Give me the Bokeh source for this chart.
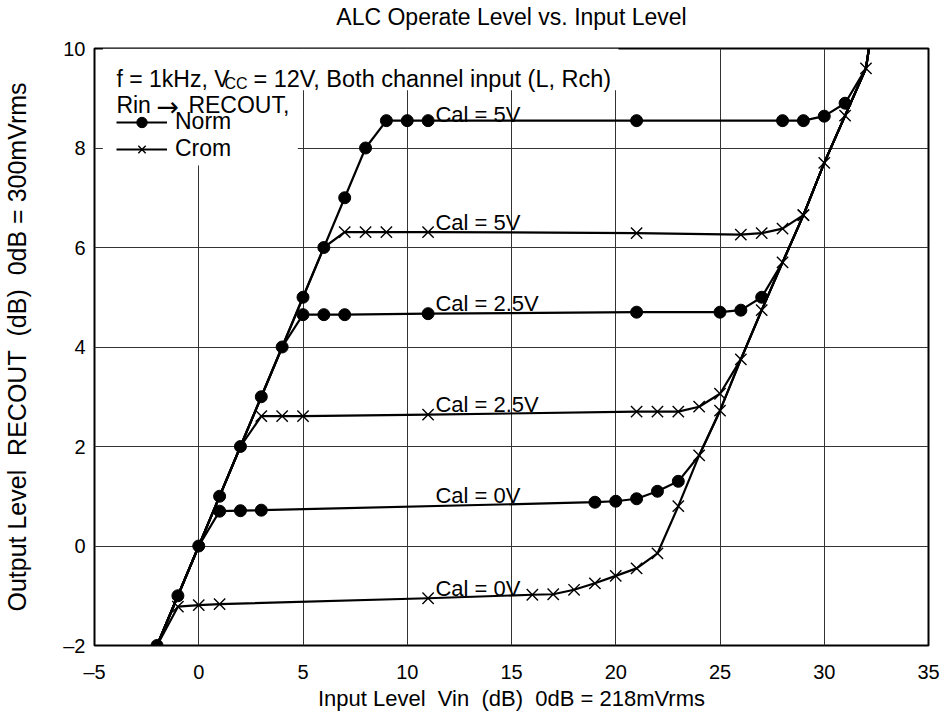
from bokeh.plotting import figure
from bokeh.models import Label, Legend, LegendItem, FixedTicker, Range1d, LinearAxis
from bokeh.core.properties import value
from bokeh.embed import file_html
from bokeh.resources import INLINE

FONT = "Liberation Sans"
NB = "\u00a0"

# ---- axes ----
x_ticks = [-5, 0, 5, 10, 15, 20, 25, 30, 35]
y_ticks = [-2, 0, 2, 4, 6, 8, 10]

# ---- shared rising segment (linear region, Norm points) ----
rise_x = [-2, -1, 0, 1, 2, 3, 4, 5, 6, 7, 8]
rise_y = [-2, -1, 0, 1, 2, 3, 4, 5, 6, 7, 8]

# ---- shared steep segment at high input (Crom points) ----
steep_x = [22, 23, 24, 25, 26, 27, 28, 29, 30, 31, 32, 32.5]
steep_y = [-0.15, 0.8, 1.82, 2.72, 3.75, 4.74, 5.7, 6.65, 7.7, 8.65, 9.6, 11.0]

# ---- ALC-limited plateaus ----
norm5_x = [9, 10, 11, 21, 28, 29, 30, 31]
norm5_y = [8.55, 8.55, 8.55, 8.55, 8.55, 8.55, 8.64, 8.9]
crom5_x = [7, 8, 9, 11, 21, 26, 27, 28, 29]
crom5_y = [6.31, 6.31, 6.31, 6.31, 6.29, 6.26, 6.29, 6.38, 6.65]
norm25_x = [5, 6, 7, 11, 21, 25, 26, 27]
norm25_y = [4.65, 4.65, 4.65, 4.67, 4.70, 4.70, 4.74, 5.0]
crom25_x = [3, 4, 5, 11, 21, 22, 23, 24, 25]
crom25_y = [2.61, 2.61, 2.61, 2.64, 2.70, 2.70, 2.70, 2.8, 3.06]
norm0_x = [1, 2, 3, 19, 20, 21, 22, 23]
norm0_y = [0.7, 0.71, 0.72, 0.88, 0.9, 0.95, 1.1, 1.3]
crom0_x = [-1, 0, 1, 11, 16, 17, 18, 19, 20, 21]
crom0_y = [-1.22, -1.19, -1.17, -1.05, -0.98, -0.97, -0.88, -0.75, -0.6, -0.45]

cal_text = ["Cal = 5V", "Cal = 5V", "Cal = 2.5V", "Cal = 2.5V", "Cal = 0V", "Cal = 0V"]
cal_y = [8.68, 6.50, 4.87, 2.85, 1.01, -0.86]
cal_x = [11.35] * 6

title_text = "ALC Operate Level vs. Input Level"
x_label = "Input Level" + NB * 2 + "Vin" + NB * 2 + "(dB)" + NB * 2 + "0dB = 218mVrms"
y_label = "Output Level" + NB * 2 + "RECOUT" + NB * 2 + "(dB)" + NB * 2 + "0dB = 300mVrms"

# (plateau, rise ends at x<=, steep starts at x>=)
curves = [
    (norm5_x, norm5_y, 8, 32),
    (crom5_x, crom5_y, 6, 30),
    (norm25_x, norm25_y, 4, 28),
    (crom25_x, crom25_y, 2, 26),
    (norm0_x, norm0_y, 0, 24),
    (crom0_x, crom0_y, -2, 22),
]

p = figure(frame_width=834, frame_height=597, output_backend="svg", toolbar_location=None,
           x_range=Range1d(-5, 35), y_range=Range1d(-2, 10),
           min_border_left=89, min_border_right=21, min_border_top=48, min_border_bottom=71)
p.background_fill_color = "white"
p.border_fill_color = "white"
p.outline_line_color = "black"
p.outline_line_width = 2

for ax, ticks in ((p.xaxis, x_ticks), (p.yaxis, y_ticks)):
    ax.ticker = FixedTicker(ticks=ticks)
    ax.major_tick_in = 0
    ax.major_tick_out = 0
    ax.minor_tick_line_color = None
    ax.axis_line_color = None
    ax.major_label_text_font = FONT
    ax.major_label_text_font_size = "20px"
    ax.major_label_text_color = "black"
    ax.axis_label_text_font = FONT
    ax.axis_label_text_font_style = "normal"
    ax.axis_label_text_color = "black"

p.xaxis.major_label_overrides = {-5: "\u20135"}
p.yaxis.major_label_overrides = {-2: "\u20132"}
p.xaxis.major_label_standoff = 15
p.yaxis.major_label_standoff = 9
p.xaxis.axis_label = x_label
p.yaxis.axis_label = y_label
p.xaxis.axis_label_text_font_size = "22px"
p.yaxis.axis_label_text_font_size = "25px"
p.xaxis.axis_label_standoff = 0
p.yaxis.axis_label_standoff = 29

# chart title, carried by a tick-less axis above the frame
title_axis = LinearAxis(ticker=FixedTicker(ticks=[]), axis_label=title_text,
                        axis_line_color=None, major_tick_in=0, major_tick_out=0,
                        minor_tick_line_color=None, major_label_text_font_size="0px",
                        axis_label_standoff=19, axis_label_text_font=FONT,
                        axis_label_text_font_size="23px", axis_label_text_font_style="normal",
                        axis_label_text_color="black")
p.add_layout(title_axis, "above")

p.grid.grid_line_color = "#333333"
p.grid.grid_line_width = 1
p.xgrid.ticker = FixedTicker(ticks=x_ticks)
p.ygrid.ticker = FixedTicker(ticks=y_ticks)

# white backing behind the condition text block
p.quad(left=[-4.6, -4.6], right=[20.13, 4.75], top=[10, 9.16], bottom=[9.16, 7.65],
       fill_color="white", line_color=None)

line_renderers = []
for cx, cy, rise_end, steep_start in curves:
    xs = [x for x in rise_x if x <= rise_end] + cx + [x for x in steep_x if x >= steep_start]
    ys = [y for x, y in zip(rise_x, rise_y) if x <= rise_end] + cy + \
         [y for x, y in zip(steep_x, steep_y) if x >= steep_start]
    r = p.line(xs, ys, line_color="black", line_width=2.2, line_join="round")
    line_renderers.append(r)

dot_x = rise_x + norm5_x + norm25_x + norm0_x
dot_y = rise_y + norm5_y + norm25_y + norm0_y
cross_x = crom5_x + crom25_x + crom0_x + [x for x in steep_x if x <= 32]
cross_y = crom5_y + crom25_y + crom0_y + [y for x, y in zip(steep_x, steep_y) if x <= 32]

dots = p.scatter(dot_x, dot_y, marker="circle", size=12, fill_color="black", line_color="black")
crosses = p.scatter(cross_x, cross_y, marker="x", size=16, line_color="black", line_width=1.4)

p.text(x=cal_x, y=cal_y, text=cal_text, text_font=value(FONT), text_font_size="22px",
       text_baseline="alphabetic", text_align="left", text_color="black")

lab_kw = dict(text_color="black", text_baseline="alphabetic", text_align="left")

# condition text block
hdr_x = -3.95
hdr_y1 = 9.38
hdr_y2 = 8.86
p.add_layout(Label(x=hdr_x, y=hdr_y1, text="f = 1kHz, V", text_font=FONT,
                   text_font_size="23px", **lab_kw))
p.add_layout(Label(x=hdr_x, y=hdr_y1, x_offset=108, y_offset=-4, text="CC", text_font=FONT,
                   text_font_size="16px", **lab_kw))
p.add_layout(Label(x=hdr_x, y=hdr_y1, x_offset=137, text="= 12V, Both channel input (L, Rch)",
                   text_font=FONT, text_font_size="23.5px", **lab_kw))
p.add_layout(Label(x=hdr_x, y=hdr_y2, text="Rin", text_font=FONT, text_font_size="23px", **lab_kw))
p.add_layout(Label(x=hdr_x, y=hdr_y2, x_offset=40, y_offset=-1, text="\u2192",
                   text_font="DejaVu Sans", text_font_size="27px", **lab_kw))
p.add_layout(Label(x=hdr_x, y=hdr_y2, x_offset=72, text="RECOUT,", text_font=FONT,
                   text_font_size="23px", **lab_kw))

legend = Legend(items=[LegendItem(label="Norm", renderers=[line_renderers[0], dots]),
                       LegendItem(label="Crom", renderers=[line_renderers[1], crosses])],
                location=(22, 483), padding=0, margin=0, spacing=0,
                glyph_width=51, glyph_height=26, label_height=26, label_standoff=8,
                label_text_font=FONT, label_text_font_size="23px", label_text_color="black",
                background_fill_alpha=0, border_line_color=None)
p.add_layout(legend, "center")

open("out.html", "w").write(file_html(p, INLINE))
